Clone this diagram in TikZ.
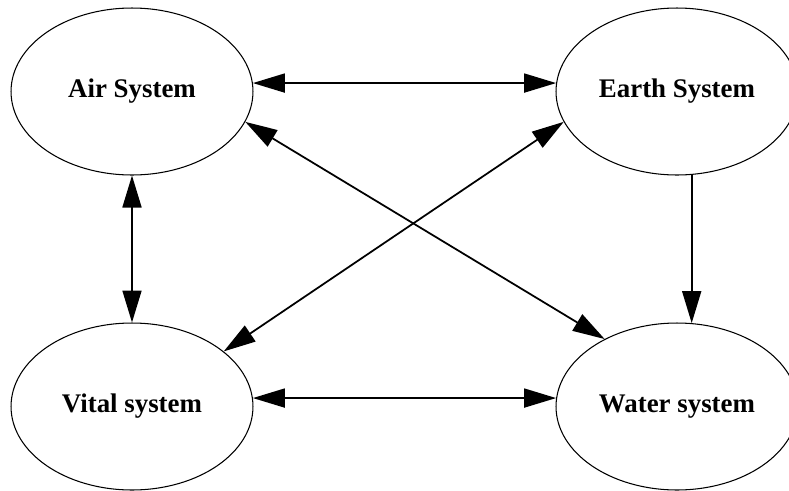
\documentclass[tikz,border=0pt]{standalone}
\usepackage{fontspec}
\setmainfont{Liberation Serif}
\usetikzlibrary{shapes.geometric,arrows.meta}
\begin{document}
\begin{tikzpicture}[x=0.02cm,y=-0.02cm,>={Triangle[length=0.64cm,width=0.38cm]},
sys/.style={draw,ellipse,line width=0.6pt,inner sep=0pt,minimum width=4.84cm,minimum height=3.34cm,font=\fontsize{15.3}{18}\selectfont\bfseries}]
\useasboundingbox(0,0)rectangle(789,491);
\node[sys](air)at(132,91.5){Air System};
\node[sys](earth)at(677,91.5){Earth System};
\node[sys](vital)at(132,406.5){Vital system};
\node[sys](water)at(677,406.5){Water system};
\draw[<->,line width=1pt](air.4)--(earth.176);
\draw[<->,line width=1pt](vital.4)--(water.176);
\draw[<->,line width=1pt](air.south)--(vital.north);
\draw[->,line width=1pt](earth.-80)--(water.80);
\draw[<->,line width=1pt](air.-15)--(water.137);
\draw[<->,line width=1pt](vital.31)--(earth.-165);
\end{tikzpicture}
\end{document}
